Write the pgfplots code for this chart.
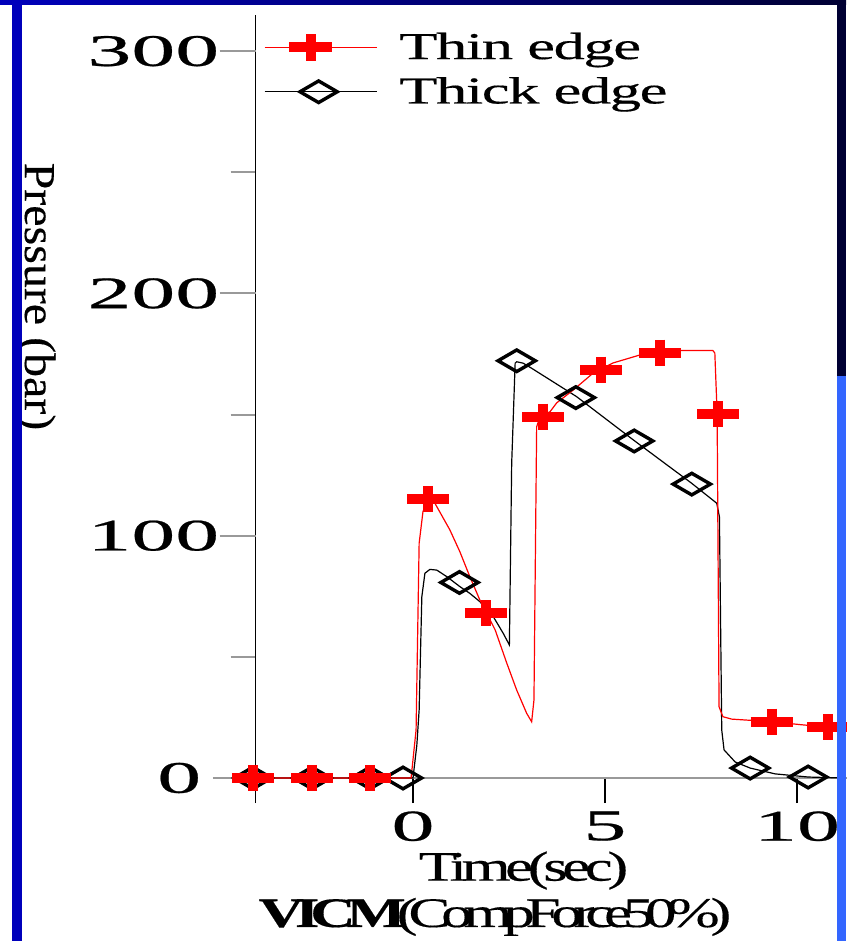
\documentclass[border=0pt]{standalone}
\usepackage{pgfplots}
\pgfplotsset{compat=1.18}
\usepackage{fontspec}
\setmainfont{Liberation Serif}
\newfontfamily\tickfont[FakeStretch=1.95,FakeBold=0.5]{Liberation Serif}
\newfontfamily\legfont[FakeStretch=1.65,LetterSpace=-4,FakeBold=0.4]{Liberation Serif}
\newfontfamily\timefont[FakeStretch=1.5,LetterSpace=-13,FakeBold=0.4]{Liberation Serif}
\newfontfamily\vicmfont[FakeStretch=1.5,LetterSpace=-22,FakeBold=0.3]{Liberation Serif}
\newfontfamily\presfont[FakeStretch=1.09,FakeBold=0.3]{Liberation Serif}

\definecolor{slidenavy}{HTML}{000033}
\definecolor{slideblue}{HTML}{0000BB}
\definecolor{slidesky}{HTML}{3366FF}
\definecolor{axisgray}{HTML}{999999}

% legend samples: a line with one marker on it
\pgfplotsset{
  thick legend/.style={legend image code/.code={
    \draw[black, line width=0.6pt] (0pt,0pt) -- (56pt,0pt);
    \draw[##1] plot coordinates {(27pt,0pt)};}},
  thin legend/.style={legend image code/.code={
    \draw[red, line width=0.6pt] (0pt,0pt) -- (56pt,0pt);
    \draw[##1] plot coordinates {(23pt,0pt)};}},
}

\begin{document}
\begin{tikzpicture}
\useasboundingbox (0,0) rectangle (423pt,470.5pt);
\fill[white] (0,0) rectangle (423pt,470.5pt);

\begin{axis}[
  at={(127.78pt,81.5pt)}, anchor=south west,
  scale only axis, width=295.68pt, height=381.6pt,
  xmin=-4.1, xmax=11.3, ymin=0, ymax=315,
  clip=false,
  axis x line*=bottom, axis y line*=left,
  x axis line style={axisgray, line width=1pt, -},
  y axis line style={black, line width=0.7pt, -},
  tick align=outside,
  major tick length=12.5pt,
  /pgf/number format/assume math mode=true,
  xtick={-4.1,0,5,10}, xticklabels={,0,5,10},
  xtick style={black, line width=0.6pt},
  xticklabel style={font=\tickfont\fontsize{22pt}{22pt}\selectfont, inner sep=0pt, anchor=north, yshift=-4pt},
  ytick={50,150,250}, yticklabels={},
  ytick style={axisgray, line width=1pt},
  extra y ticks={0,100,200,300},
  extra y tick labels={0\hspace*{9pt},100,200,300},
  extra y tick style={major tick length=18pt},
  yticklabel style={font=\tickfont\fontsize{22.5pt}{22.5pt}\selectfont, inner sep=0pt, anchor=east},
  every axis x label/.style={at={(axis description cs:0.4531,-0.1345)}, anchor=base, inner sep=0pt},
  every axis y label/.style={at={(axis description cs:-0.3899,0.6309)}, anchor=base, rotate=-90, inner sep=0pt},
  xlabel={\timefont\fontsize{21pt}{21pt}\selectfont Time(sec)},
  ylabel={\presfont\fontsize{22pt}{22pt}\selectfont Pressure (bar)},
  legend style={at={(axis description cs:0.0143,0.9765)}, anchor=north west,
    draw=none, fill=none, inner sep=0pt, outer sep=0pt, row sep=7.5pt,
    font=\legfont\fontsize{19pt}{19pt}\selectfont,
    nodes={inner sep=0pt},
    /tikz/every odd column/.append style={column sep=11pt}},
  legend cell align=left,
  reverse legend,
]

% thick edge: trace
\addplot[black, line width=0.6pt, forget plot] coordinates {
  (-4.17,0) (0,0) (0.10,13.6) (0.16,28.1) (0.23,74.8) (0.31,84.5) (0.44,86.1)
  (0.62,85.8) (0.88,83.1) (1.22,79.0) (1.48,76.2) (1.74,72.8) (2.09,66.6)
  (2.35,59.7) (2.51,54.9) (2.57,129.9) (2.66,171.2) (2.70,171.8) (2.87,171.2)
  (3.09,169.1) (4.26,157.4) (5.74,139.5) (7.26,121.6) (7.91,113.4) (7.98,107.8)
  (8.04,19.8) (8.10,11.6) (8.39,6.6) (8.78,4.1) (9.43,1.7) (10.29,0.4) (11.2,0)
};
% thick edge: markers
\addplot[only marks, mark=diamond, mark size=5.4pt,
  mark options={xscale=2.3, line width=1.7pt, black, solid}, thick legend]
  coordinates {
  (-4.17,0) (-2.63,0) (-1.12,0) (-0.26,0) (1.21,80.7) (2.70,172.2)
  (4.24,157.0) (5.76,139.1) (7.26,121.3) (8.78,4.1) (10.29,0.4)
};
\addlegendentry{Thick edge}

% thin edge: trace
\addplot[red, line width=0.6pt, forget plot] coordinates {
  (-4.17,0) (-2.63,0) (-1.12,0) (-0.05,0) (0.08,19.8) (0.16,96.9) (0.26,110)
  (0.40,115.1) (0.57,113.4) (0.96,102.4) (1.22,93.4) (1.48,83.1) (1.74,73.5)
  (1.92,68.0) (2.14,61.1) (2.44,47.5) (2.70,36.3) (2.96,26.7) (3.09,23.2)
  (3.15,32.2) (3.22,145.0) (3.31,149.1) (3.57,151.2) (3.74,154.8) (4.17,160.1)
  (4.69,167.1) (5.21,171.3) (5.91,174.6) (6.43,175.5) (6.95,176.4) (7.81,176.4)
  (7.86,175.4) (7.92,150.6) (7.97,29.4) (8.07,25.3) (8.30,24.3) (8.69,23.9)
  (9.38,23.2) (10.10,22.0) (10.81,21.0) (11.2,20.6)
};
% thin edge: markers
\addplot[only marks, mark=+, mark size=6.6pt,
  mark options={xscale=1.6, line width=5pt, red, solid}, thin legend]
  coordinates {
  (-4.17,0) (-2.63,0) (-1.12,0) (0.40,115.1) (1.90,68.0) (3.39,149.1)
  (4.90,168.5) (6.43,175.5) (7.95,150.2) (9.34,23.2) (10.81,21.0)
};
\addlegendentry{Thin edge}

% x axis line continues left of the y axis
\draw[axisgray, line width=1pt] (axis cs:-5.21,0) -- (axis cs:-4.1,0);

\node[anchor=base, inner sep=0pt] at (axis description cs:0.4049,-0.1952)
  {\vicmfont\fontsize{21pt}{21pt}\selectfont\textbf{VICM}(CompForce50\%)};
\end{axis}

% slide frame
\shade[left color=slideblue, right color=slidenavy] (0,468pt) rectangle (423pt,470.5pt);
\fill[slideblue] (6pt,0) rectangle (11pt,470.5pt);
\fill[slidenavy] (418.5pt,282.5pt) rectangle (423pt,470.5pt);
\fill[slidesky] (418.5pt,0) rectangle (423pt,282.5pt);
\end{tikzpicture}
\end{document}
